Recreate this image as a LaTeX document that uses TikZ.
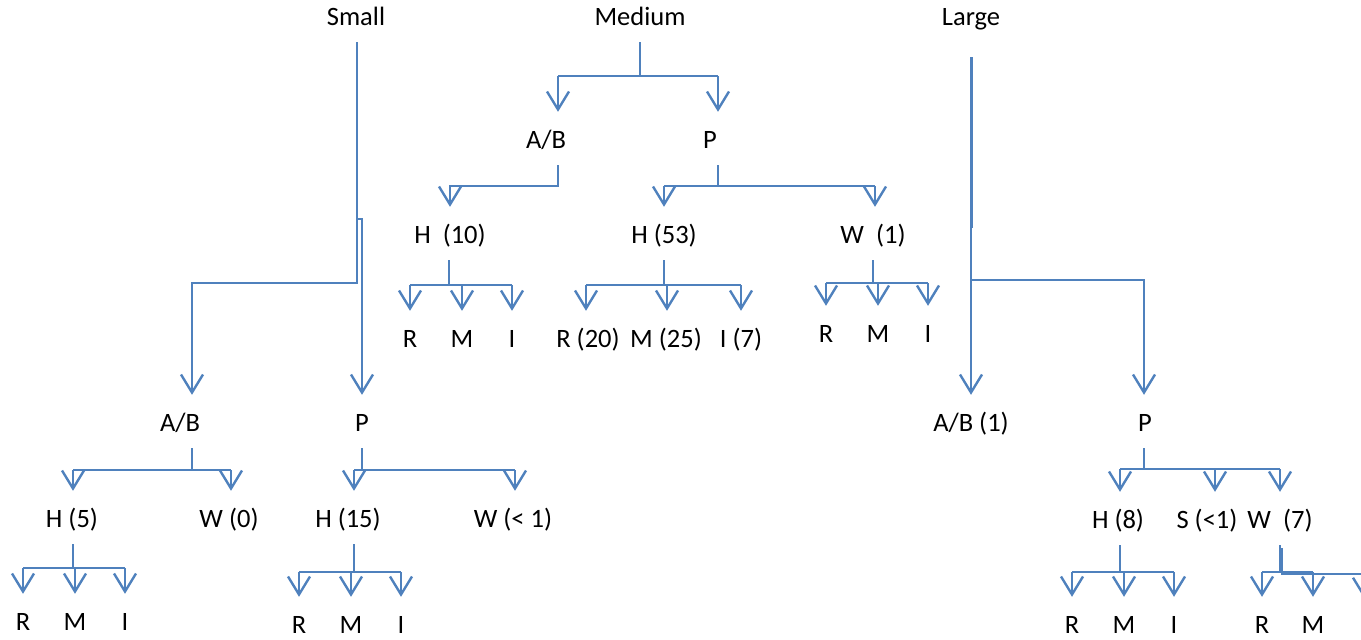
\documentclass[tikz,border=0pt]{standalone}
\usepackage{fontspec}
\setmainfont{Carlito}
\usetikzlibrary{arrows.meta}
\definecolor{lblue}{RGB}{79,129,189}
\newcommand\lblfont{\fontsize{26.5}{30}\selectfont}
\begin{document}
\begin{tikzpicture}[x=1pt,y=-1pt,
  ln/.style={draw=lblue, line width=2.4pt},
  arr/.style={ln, -{Straight Barb[length=18pt,width=22pt]}},
  lbl/.style={inner sep=0pt, anchor=base, text height=36pt, text depth=17pt, font=\lblfont, text=black}]
\useasboundingbox (0,0) rectangle (1361,640);

% ---------- labels ----------
\node[lbl] (small)  at (356,25) {Small};
\node[lbl] (medium) at (640,25) {Medium};
\node[lbl] (large)  at (971,25) {Large};

\node[lbl] (sAB) at (180,431) {A/B};
\node[lbl] (sP)  at (362,431) {P};
\node[lbl] (sH)  at (72,527) {H (5)};
\node[lbl] (sW)  at (229,527) {W (0)};
\node[lbl] (sHr) at (23,630) {R};
\node[lbl] (sHm) at (75,630) {M};
\node[lbl] (sHi) at (125,630) {I};
\node[lbl] (sPH) at (348,527) {H (15)};
\node[lbl] (sPW) at (513,527) {W (< 1)};
\node[lbl] (sPHr) at (299,633) {R};
\node[lbl] (sPHm) at (351,633) {M};
\node[lbl] (sPHi) at (401,633) {I};

\node[lbl] (mAB) at (546,148) {A/B};
\node[lbl] (mP)  at (710,148) {P};
\node[lbl] (mH)  at (450,243) {H\ \ (10)};
\node[lbl] (mPH) at (664,243) {H (53)};
\node[lbl] (mPW) at (873,243) {W\ \ (1)};
\node[lbl] (mHr) at (410,347) {R};
\node[lbl] (mHm) at (462,347) {M};
\node[lbl] (mHi) at (512,347) {I};
\node[lbl] (mPHr) at (588,347) {R (20)};
\node[lbl] (mPHm) at (666,347) {M (25)};
\node[lbl] (mPHi) at (741,347) {I (7)};
\node[lbl] (mPWr) at (826,342) {R};
\node[lbl] (mPWm) at (878,342) {M};
\node[lbl] (mPWi) at (928,342) {I};

\node[lbl] (lAB) at (971,431) {A/B (1)};
\node[lbl] (lP)  at (1145,431) {P};
\node[lbl] (lH)  at (1118,528) {H (8)};
\node[lbl] (lS)  at (1207,528) {S (<1)};
\node[lbl] (lW)  at (1280,528) {W\ \ (7)};
\node[lbl] (lHr) at (1072,633) {R};
\node[lbl] (lHm) at (1124,633) {M};
\node[lbl] (lHi) at (1174,633) {I};
\node[lbl] (lWr) at (1262,633) {R};
\node[lbl] (lWm) at (1313,633) {M};

% ---------- Small ----------
\draw[arr] ([xshift=1pt]small.south) -- ++(0,241) -| ([xshift=12pt]sAB.north);
\draw[arr] ([xshift=1pt,yshift=-177pt]small.south) -| (sP.north);

\draw[ln] ([xshift=12pt]sAB.south) -- ++(0,22) coordinate (sABb);
\draw[ln] ([xshift=1pt]sH.north |- sABb) -- ([xshift=2pt]sW.north |- sABb);
\coordinate (sHt) at ([xshift=1pt]sH.north);
\coordinate (sWt) at ([xshift=2pt]sW.north);
\foreach \c in {sHt,sWt} \draw[arr] (\c |- sABb) -- (\c);

\draw[ln] ([xshift=1pt]sH.south) -- ++(0,24) coordinate (sHb);
\draw[ln] (sHr.north |- sHb) -- (sHi.north |- sHb);
\foreach \c in {sHr,sHm,sHi} \draw[arr] (\c.north |- sHb) -- (\c.north);

\coordinate (sPHt) at ([xshift=6pt]sPH.north);
\coordinate (sPWt) at ([xshift=2pt]sPW.north);
\draw[ln] (sP.south) -- ++(0,22) coordinate (sPb);
\draw[ln] (sPHt |- sPb) -- (sPWt |- sPb);
\foreach \c in {sPHt,sPWt} \draw[arr] (\c |- sPb) -- (\c);

\draw[ln] ([xshift=6pt]sPH.south) -- ++(0,28) coordinate (sPHb);
\draw[ln] (sPHr.north |- sPHb) -- (sPHi.north |- sPHb);
\foreach \c in {sPHr,sPHm,sPHi} \draw[arr] (\c.north |- sPHb) -- (\c.north);

% ---------- Medium ----------
\coordinate (mABt) at ([xshift=12pt]mAB.north);
\coordinate (mPt) at ([xshift=8pt]mP.north);
\draw[ln] (medium.south) -- ++(0,34) coordinate (mb);
\draw[ln] (mABt |- mb) -- (mPt |- mb);
\foreach \c in {mABt,mPt} \draw[arr] (\c |- mb) -- (\c);

\draw[arr] ([xshift=12pt]mAB.south) -- ++(0,21) -| (mH.north);

\draw[ln] ([xshift=8pt]mP.south) -- ++(0,21) coordinate (mPb);
\draw[ln] (mPH.north |- mPb) -- ([xshift=2pt]mPW.north |- mPb);
\coordinate (mPWt) at ([xshift=2pt]mPW.north);
\foreach \c in {mPH.north,mPWt} \draw[arr] (\c |- mPb) -- (\c);

\draw[ln] ([xshift=-1pt]mH.south) -- ++(0,25) coordinate (mHb);
\draw[ln] (mHr.north |- mHb) -- (mHi.north |- mHb);
\foreach \c in {mHr,mHm,mHi} \draw[arr] (\c.north |- mHb) -- (\c.north);

\draw[ln] (mPH.south) -- ++(0,25) coordinate (mPHb);
\draw[ln] ([xshift=-2pt]mPHr.north |- mPHb) -- (mPHi.north |- mPHb);
\coordinate (mPHrt) at ([xshift=-2pt]mPHr.north);
\coordinate (mPHmt) at ([xshift=1pt]mPHm.north);
\foreach \c in {mPHrt,mPHmt,mPHi.north} \draw[arr] (\c |- mPHb) -- (\c);

\draw[ln] (mPW.south) -- ++(0,23) coordinate (mPWb);
\draw[ln] (mPWr.north |- mPWb) -- (mPWi.north |- mPWb);
\foreach \c in {mPWr,mPWm,mPWi} \draw[arr] (\c.north |- mPWb) -- (\c.north);

% ---------- Large ----------
\draw[arr] ([yshift=-15pt]large.south) -- (lAB.north);
\draw[ln] ([xshift=1pt,yshift=-15pt]large.south) -- ++(0,171);
\draw[arr] ([yshift=-238pt]large.south) -| ([xshift=-1pt]lP.north);

\coordinate (lHt) at ([xshift=2pt]lH.north);
\coordinate (lSt) at ([xshift=8pt]lS.north);
\draw[ln] ([xshift=-1pt]lP.south) -- ++(0,21) coordinate (lPb);
\draw[ln] (lHt |- lPb) -- (lW.north |- lPb);
\foreach \c in {lHt,lSt,lW.north} \draw[arr] (\c |- lPb) -- (\c);

\draw[ln] ([xshift=2pt]lH.south) -- ++(0,27) coordinate (lHb);
\draw[ln] (lHr.north |- lHb) -- (lHi.north |- lHb);
\foreach \c in {lHr,lHm,lHi} \draw[arr] (\c.north |- lHb) -- (\c.north);

\draw[ln] (lW.south) -- ++(0,27) coordinate (lWb);
\draw[ln] (lWr.north |- lWb) -- (lWm.north |- lWb);
\foreach \c in {lWr,lWm} \draw[arr] (\c.north |- lWb) -- (\c.north);
\draw[ln] ([xshift=2pt,yshift=-3pt]lW.south) -- ++(0,26) coordinate (lWb2) -- ++(95,0);
\coordinate (lWx) at (1364,598);
\draw[arr] (lWx |- lWb2) -- (lWx);
\end{tikzpicture}
\end{document}
